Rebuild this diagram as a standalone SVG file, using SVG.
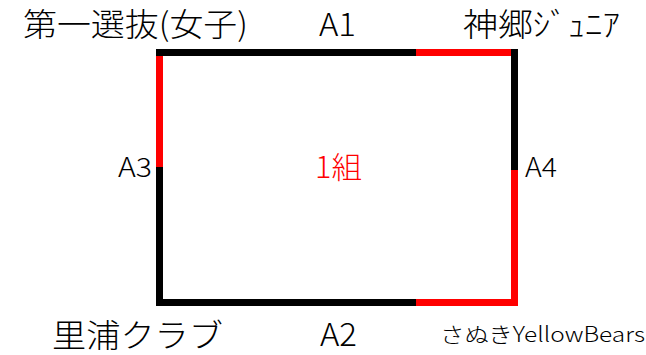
<svg xmlns="http://www.w3.org/2000/svg" width="646" height="355" viewBox="0 0 646 355">
<style>
text{font-family:"Noto Sans CJK JP","Noto Sans",sans-serif;fill:#000;font-weight:300}
.big{font-size:32px}
.mid{font-size:27px}
.sm{font-size:21px}
.red{fill:#ff0000}
.e{stroke-width:7;fill:none;stroke-linecap:butt}
.k{stroke:#000}
.r{stroke:#ff0000}
</style>
<rect width="646" height="355" fill="#fff"/>
<g id="connectors">
<line class="e k" x1="156" y1="52.5" x2="416" y2="52.5"/>
<line class="e r" x1="416" y1="52.5" x2="511" y2="52.5"/>
<line class="e k" x1="514.5" y1="49" x2="514.5" y2="170"/>
<line class="e r" x1="514.5" y1="170" x2="514.5" y2="306"/>
<line class="e k" x1="156" y1="302.5" x2="416" y2="302.5"/>
<line class="e r" x1="416" y1="302.5" x2="511" y2="302.5"/>
<line class="e r" x1="159.5" y1="56" x2="159.5" y2="167"/>
<line class="e k" x1="159.5" y1="167" x2="159.5" y2="299"/>
</g>
<g id="team-tl"><text class="big" x="23" y="36" textLength="225" lengthAdjust="spacingAndGlyphs">第一選抜(女子)</text></g>
<g id="team-tr"><text class="big" x="463" y="36" textLength="157" lengthAdjust="spacingAndGlyphs">神郷ｼﾞｭﾆｱ</text></g>
<g id="team-bl"><text class="big" x="52" y="347" textLength="171" lengthAdjust="spacingAndGlyphs">里浦クラブ</text></g>
<g id="team-br"><text class="sm" x="440" y="342" textLength="205" lengthAdjust="spacingAndGlyphs">さぬきYellowBears</text></g>
<g id="group"><text class="red" x="315" y="178" font-size="30" textLength="47" lengthAdjust="spacingAndGlyphs">1組</text></g>
<g id="labels">
<text class="big" x="319" y="36" textLength="37" lengthAdjust="spacingAndGlyphs">A1</text>
<text class="big" x="320" y="346" textLength="37" lengthAdjust="spacingAndGlyphs">A2</text>
<text class="mid" x="118" y="177" textLength="34" lengthAdjust="spacingAndGlyphs">A3</text>
<text class="mid" x="525" y="177" textLength="32" lengthAdjust="spacingAndGlyphs">A4</text>
</g>
</svg>
